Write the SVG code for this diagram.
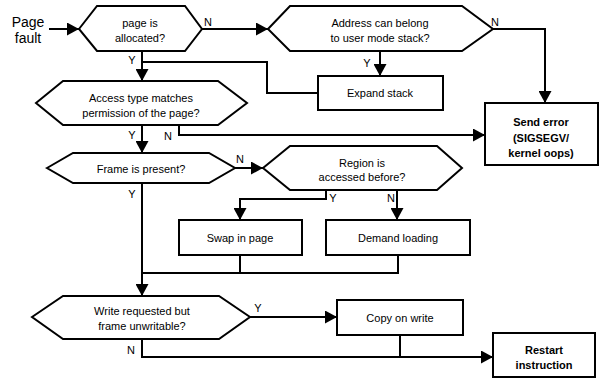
<svg xmlns="http://www.w3.org/2000/svg" width="607" height="379" viewBox="0 0 607 379">
<defs>
<marker id="ah" markerUnits="userSpaceOnUse" markerWidth="13" markerHeight="13" refX="12" refY="6.5" orient="auto">
<path d="M0,0 L12,6.5 L0,13 z" fill="#000"/>
</marker>
<style>
.s{fill:#fff;stroke:#000;stroke-width:2}
.c{fill:none;stroke:#000;stroke-width:2}
.t{font-family:"Liberation Sans",Arial,sans-serif;font-size:11px;fill:#000;text-anchor:middle}
.b{font-weight:bold}
.l{font-family:"Liberation Sans",Arial,sans-serif;font-size:11px;fill:#000;text-anchor:middle}
</style>
</defs>
<rect width="607" height="379" fill="#fff"/>
<g id="connectors">
<path class="c" d="M49,29 H79" marker-end="url(#ah)"/>
<path class="c" d="M202,29 H268" marker-end="url(#ah)"/>
<path class="c" d="M493,29 H545 V103" marker-end="url(#ah)"/>
<path class="c" d="M380,51 V76" marker-end="url(#ah)"/>
<path class="c" d="M142,51 V81" marker-end="url(#ah)"/>
<path class="c" d="M318,93 H267 V62 H142"/>
<path class="c" d="M142,125 V153" marker-end="url(#ah)"/>
<path class="c" d="M179,125 V135 H485" marker-end="url(#ah)"/>
<path class="c" d="M235,168 H263" marker-end="url(#ah)"/>
<path class="c" d="M326,190 V199 H240 V220" marker-end="url(#ah)"/>
<path class="c" d="M397,190 V220" marker-end="url(#ah)"/>
<path class="c" d="M142,183 V296" marker-end="url(#ah)"/>
<path class="c" d="M240,255 V273 H142"/>
<path class="c" d="M398,255 V273 H240"/>
<path class="c" d="M250,317 H337" marker-end="url(#ah)"/>
<path class="c" d="M142,339 V357 H493" marker-end="url(#ah)"/>
<path class="c" d="M400,335 V357"/>
<text class="l" x="208" y="26">N</text>
<text class="l" x="132" y="64">Y</text>
<text class="l" x="495" y="26">N</text>
<text class="l" x="367" y="67">Y</text>
<text class="l" x="132" y="139">Y</text>
<text class="l" x="168" y="140">N</text>
<text class="l" x="240" y="163">N</text>
<text class="l" x="132" y="198">Y</text>
<text class="l" x="333" y="202">Y</text>
<text class="l" x="391" y="202">N</text>
<text class="l" x="258" y="312">Y</text>
<text class="l" x="131" y="354">N</text>
</g>
<g id="page-fault">
<text x="28" y="27" style="font-family:'Liberation Sans',Arial,sans-serif;font-size:14px;text-anchor:middle">Page</text>
<text x="28" y="43" style="font-family:'Liberation Sans',Arial,sans-serif;font-size:14px;text-anchor:middle">fault</text>
</g>
<g id="page-allocated">
<polygon class="s" points="79,29 97,6 185,6 202,29 185,51 97,51"/>
<text class="t" x="140" y="27">page is</text>
<text class="t" x="140" y="42">allocated?</text>
</g>
<g id="user-stack">
<polygon class="s" points="268,29 290,6 462,6 493,29 462,51 290,51"/>
<text class="t" x="380" y="27">Address can belong</text>
<text class="t" x="380" y="42">to user mode stack?</text>
</g>
<g id="expand-stack">
<rect class="s" x="318" y="76" width="125" height="34"/>
<text class="t" x="380" y="97">Expand stack</text>
</g>
<g id="send-error">
<rect class="s" x="485" y="103" width="113" height="62"/>
<text class="t b" x="541" y="126">Send error</text>
<text class="t b" x="541" y="142">(SIGSEGV/</text>
<text class="t b" x="541" y="157">kernel oops)</text>
</g>
<g id="access-type">
<polygon class="s" points="36,103 63,81 218,81 247,103 218,125 63,125"/>
<text class="t" x="141" y="102">Access type matches</text>
<text class="t" x="141" y="117">permission of the page?</text>
</g>
<g id="frame-present">
<polygon class="s" points="47,168 73,153 209,153 235,168 209,183 73,183"/>
<text class="t" x="141" y="173">Frame is present?</text>
</g>
<g id="region-accessed">
<polygon class="s" points="263,168 290,146 437,146 462,168 437,190 290,190"/>
<text class="t" x="362" y="167">Region is</text>
<text class="t" x="362" y="181">accessed before?</text>
</g>
<g id="swap-in">
<rect class="s" x="179" y="220" width="123" height="35"/>
<text class="t" x="240" y="242">Swap in page</text>
</g>
<g id="demand-loading">
<rect class="s" x="326" y="220" width="144" height="35"/>
<text class="t" x="398" y="242">Demand loading</text>
</g>
<g id="write-unwritable">
<polygon class="s" points="32,317 63,296 219,296 250,317 219,339 63,339"/>
<text class="t" x="142" y="315">Write requested but</text>
<text class="t" x="142" y="330">frame unwritable?</text>
</g>
<g id="copy-on-write">
<rect class="s" x="337" y="300" width="126" height="35"/>
<text class="t" x="400" y="322">Copy on write</text>
</g>
<g id="restart">
<rect class="s" x="493" y="333" width="102" height="44"/>
<text class="t b" x="544" y="354">Restart</text>
<text class="t b" x="544" y="369">instruction</text>
</g>
</svg>
